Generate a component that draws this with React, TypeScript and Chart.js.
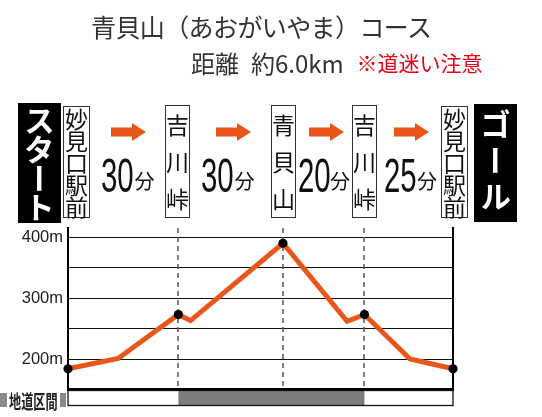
import React, { useEffect, useRef } from 'react';
import { Chart, registerables } from 'chart.js';

Chart.register(...registerables);

// ---- data ----
const distanceKm = [0, 0.78, 1.72, 1.91, 3.35, 4.35, 4.62, 5.33, 6.0];
const elevationM = [184, 201, 273, 263, 390, 262, 273, 200, 184];
const isStation = [true, false, true, false, true, false, true, false, true];
const yGridValues = [150, 200, 250, 300, 350, 400];
const yLabelValues = [200, 300, 400];
const dirtRoadKm = [1.72, 4.62];
const stationNames = ['妙見口駅前', '吉川峠', '青貝山', '吉川峠', '妙見口駅前'];
const legMinutes = ['30', '30', '20', '25'];

// ---- layout (not data) ----
const boxLeft = [63, 165, 271, 352, 441];
const boxWidth = [27, 25, 25, 25, 27];
const arrowLeft = [111, 216, 309, 394];
const minuteLeft = [101, 201, 297.5, 384];
const funLeft = [134.5, 234.5, 330, 417];

const ORANGE = '#e8561b';
const JP = "'Noto Sans CJK JP', 'Noto Sans', sans-serif";
const LAT = "'Liberation Sans', Arial, sans-serif";

const profileDecor = {
  id: 'profileDecor',
  beforeDatasetsDraw(chart: any) {
    const { ctx, chartArea, scales } = chart;
    ctx.save();
    ctx.strokeStyle = '#555';
    ctx.lineWidth = 1.5;
    ctx.setLineDash([5, 4]);
    distanceKm.forEach((km, i) => {
      if (!isStation[i] || i === 0 || i === distanceKm.length - 1) return;
      const x = Math.round(scales.x.getPixelForValue(km));
      ctx.beginPath();
      ctx.moveTo(x, chartArea.top);
      ctx.lineTo(x, chartArea.bottom);
      ctx.stroke();
    });
    ctx.restore();
  },
  afterDraw(chart: any) {
    const { ctx, chartArea, scales } = chart;
    const top = chartArea.bottom + 1;
    const bottom = chartArea.bottom + 16;
    const l = chartArea.left;
    const r = chartArea.right;
    const g0 = scales.x.getPixelForValue(dirtRoadKm[0]);
    const g1 = scales.x.getPixelForValue(dirtRoadKm[1]);
    ctx.save();
    ctx.fillStyle = '#ffffff';
    ctx.fillRect(l, top, r - l, bottom - top);
    ctx.fillStyle = '#7d7d7d';
    ctx.fillRect(g0, top, g1 - g0, bottom - top);
    ctx.strokeStyle = '#111';
    ctx.lineWidth = 1.3;
    ctx.strokeRect(l, top, r - l, bottom - top);
    ctx.restore();
  },
};

function StationBox({ name, left, width }: { name: string; left: number; width: number }) {
  const chars = Array.from(name);
  const five = chars.length > 3;
  return (
    <div
      style={{
        position: 'absolute',
        left,
        top: five ? 106 : 104.5,
        width,
        height: five ? 112 : 113.5,
        boxSizing: 'border-box',
        border: '1.5px solid #333',
        background: '#fff',
        display: 'flex',
        flexDirection: 'column',
        alignItems: 'center',
        justifyContent: 'space-around',
        fontFamily: JP,
        fontSize: 23,
        lineHeight: five ? '21px' : '22px',
        color: '#111',
      }}
    >
      {chars.map((c, i) => (
        <span key={i}>{c}</span>
      ))}
    </div>
  );
}

function BlackBox({ text, left, top, height, spacing }: { text: string; left: number; top: number; height: number; spacing: number }) {
  return (
    <div
      style={{
        position: 'absolute',
        left,
        top,
        width: 43,
        height,
        background: '#000',
        display: 'flex',
        alignItems: 'center',
        justifyContent: 'center',
      }}
    >
      <span
        style={{
          writingMode: 'vertical-rl',
          color: '#fff',
          fontFamily: JP,
          fontWeight: 700,
          fontSize: 31,
          lineHeight: '43px',
          letterSpacing: spacing,
        }}
      >
        {text}
      </span>
    </div>
  );
}

function Arrow({ left }: { left: number }) {
  return (
    <svg style={{ position: 'absolute', left, top: 123 }} width={35} height={18} viewBox="0 0 35 18">
      <polygon points="0,4.5 21,4.5 21,0 35,9 21,18 21,13.5 0,13.5" fill={ORANGE} />
    </svg>
  );
}

export default function App() {
  const canvasRef = useRef<HTMLCanvasElement | null>(null);

  useEffect(() => {
    document.body.style.margin = '0';
    const canvas = canvasRef.current;
    if (!canvas) return;
    const chart = new Chart(canvas, {
      type: 'line',
      data: {
        datasets: [
          {
            data: distanceKm.map((x, i) => ({ x, y: elevationM[i] })),
            borderColor: ORANGE,
            borderWidth: 5,
            borderJoinStyle: 'miter',
            tension: 0,
            pointRadius: isStation.map((s) => (s ? 4.6 : 0)),
            pointHoverRadius: isStation.map((s) => (s ? 4.6 : 0)),
            pointBackgroundColor: '#000',
            pointBorderWidth: 0,
            clip: false as any,
          } as any,
        ],
      },
      options: {
        animation: false,
        responsive: false,
        events: [],
        layout: { padding: { top: 228, left: 0, right: 0, bottom: 0 } },
        plugins: { legend: { display: false }, tooltip: { enabled: false } },
        scales: {
          x: {
            type: 'linear',
            min: 0,
            max: 6,
            grid: { display: false },
            ticks: { display: false },
            border: { display: true, color: '#000', width: 3 },
            afterFit: (s: any) => {
              s.height = 27.5;
            },
          },
          y: {
            type: 'linear',
            position: 'left',
            min: 150,
            max: 415,
            afterBuildTicks: (s: any) => {
              s.ticks = yGridValues.map((v) => ({ value: v }));
            },
            ticks: {
              callback: (v: any) => (yLabelValues.includes(Number(v)) ? `${v}m` : ''),
              font: { family: LAT, size: 16.5 },
              color: '#222',
              padding: 5,
              autoSkip: false,
            },
            grid: { color: '#111', lineWidth: 1, drawTicks: false },
            border: { color: '#000', width: 2 },
            afterFit: (s: any) => {
              s.width = 68;
            },
          },
          y2: {
            type: 'linear',
            position: 'right',
            min: 150,
            max: 415,
            grid: { display: false },
            ticks: { display: false },
            border: { color: '#000', width: 2 },
            afterFit: (s: any) => {
              s.width = 89;
            },
          },
        },
      } as any,
      plugins: [profileDecor],
    });
    return () => chart.destroy();
  }, []);

  return (
    <div style={{ position: 'relative', width: 542, height: 417, background: '#fff', overflow: 'hidden' }}>
      <canvas ref={canvasRef} width={542} height={417} style={{ position: 'absolute', left: 0, top: 0, width: 542, height: 417 }} />

      <div
        style={{
          position: 'absolute',
          left: 91,
          top: 14,
          fontFamily: JP,
          fontSize: 25,
          lineHeight: '25px',
          letterSpacing: '-0.6px',
          color: '#333',
          whiteSpace: 'nowrap',
        }}
      >
        青貝山（あおがいやま）コース
      </div>
      <div
        style={{
          position: 'absolute',
          left: 191,
          top: 50.5,
          fontFamily: JP,
          fontSize: 24,
          lineHeight: '24px',
          color: '#333',
          whiteSpace: 'nowrap',
        }}
      >
        距離<span style={{ marginLeft: 12 }}>約6.0km</span>
      </div>
      <div
        style={{
          position: 'absolute',
          left: 356.5,
          top: 52,
          fontFamily: JP,
          fontSize: 21,
          lineHeight: '21px',
          color: '#e60012',
          whiteSpace: 'nowrap',
        }}
      >
        ※道迷い注意
      </div>

      <BlackBox text="スタート" left={18} top={103} height={120} spacing={-2} />
      <BlackBox text="ゴール" left={474} top={104} height={118} spacing={5} />

      {stationNames.map((n, i) => (
        <StationBox key={i} name={n} left={boxLeft[i]} width={boxWidth[i]} />
      ))}

      {legMinutes.map((m, i) => (
        <React.Fragment key={i}>
          <Arrow left={arrowLeft[i]} />
          <div
            style={{
              position: 'absolute',
              left: minuteLeft[i],
              top: 150.5,
              fontFamily: LAT,
              fontSize: 49,
              lineHeight: '49px',
              color: '#111',
              transform: 'scaleX(0.6)',
              transformOrigin: 'left top',
              whiteSpace: 'nowrap',
            }}
          >
            {m}
          </div>
          <div
            style={{
              position: 'absolute',
              left: funLeft[i],
              top: 170.5,
              fontFamily: JP,
              fontSize: 20,
              lineHeight: '20px',
              color: '#111',
            }}
          >
            分
          </div>
        </React.Fragment>
      ))}

      <div style={{ position: 'absolute', left: 0, top: 393, width: 7, height: 14, background: '#8a8a8a' }} />
      <div style={{ position: 'absolute', left: 60, top: 393, width: 6, height: 14, background: '#8a8a8a' }} />
      <div
        style={{
          position: 'absolute',
          left: 9,
          top: 391,
          fontFamily: JP,
          fontWeight: 700,
          fontSize: 19,
          lineHeight: '19px',
          color: '#222',
          transform: 'scaleX(0.64)',
          transformOrigin: 'left top',
          whiteSpace: 'nowrap',
        }}
      >
        地道区間
      </div>
    </div>
  );
}
